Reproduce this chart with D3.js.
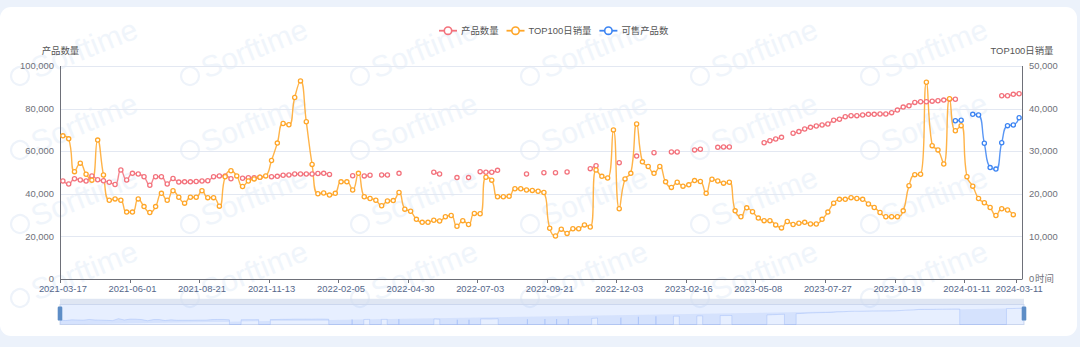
<!DOCTYPE html>
<html><head><meta charset="utf-8">
<script src="https://cdn.jsdelivr.net/npm/d3@7"></script>
<style>
html,body{margin:0;padding:0;background:#fff;overflow:hidden;}
svg{display:block;font-family:"Liberation Sans","Noto Sans CJK SC",Arial,sans-serif;}
</style></head><body>
<svg id="chart" width="1080" height="355"></svg>
<script>
// ---------------- data ----------------
const seriesNames = ["产品数量", "TOP100日销量", "可售产品数"];
const tickIndex = [0, 12, 24, 36, 48, 60, 72, 84, 96, 108, 120, 132, 144, 156, 165];
const tickLabels = ["2021-03-17","2021-06-01","2021-08-21","2021-11-13","2022-02-05","2022-04-30","2022-07-03","2022-09-21","2022-12-03","2023-02-16","2023-05-08","2023-07-27","2023-10-19","2024-01-11","2024-03-11"];
const categories = d3.range(166); // snapshot index order
const leftTicks = [0, 20000, 40000, 60000, 80000, 100000];
const rightTicks = [0, 10000, 20000, 30000, 40000, 50000];

// 产品数量 (left axis)
const productCount = [
46000,44600,47100,46500,46000,48400,46600,46100,45400,44400,
51200,46500,49600,49300,48000,44000,48000,48000,44600,47200,
45500,45600,45600,45800,46000,46100,48000,48400,48400,47100,
null,47300,47500,47500,47800,null,48000,48200,48700,48800,
49300,49300,49300,49300,49500,49600,49100,null,null,null,
48500,null,48400,48700,null,48800,48800,null,49600,null,
null,null,null,null,50100,49300,null,null,47600,null,
47600,null,50400,50100,50100,51000,null,null,null,null,
49300,null,null,49900,null,49900,null,50200,null,null,
null,51800,53200,null,null,null,54600,null,null,57700,
null,null,59300,null,null,59600,59600,null,null,60600,
60900,null,null,61800,62000,62000,null,null,null,null,
null,64000,64900,65700,66500,null,68400,69200,70400,71200,
71800,72300,72800,74500,75000,76200,76700,76700,77000,77300,
77300,77500,77500,78100,79300,80700,81300,82900,83200,83200,
83500,83700,84000,84400,84400,null,null,null,null,null,
null,null,86000,86000,86700,87000];

// TOP100日销量 (right axis)
const top100Sales = [
33600,32900,25200,27200,24600,23200,32600,24400,18500,18800,
18500,15700,15700,18800,17000,15600,17000,20100,18500,20700,
19200,17800,19200,19200,20700,19100,19100,17100,24000,25400,
24200,21700,23000,23500,23900,24200,27800,31900,36500,36200,
42600,46500,36900,26900,20000,20200,19700,20100,22800,22800,
20900,24800,19300,18900,18500,17200,18300,18400,20300,16400,
15900,14000,13300,13300,13800,13600,14600,14900,12400,13700,
12800,15400,15300,23900,23200,19300,19300,19400,21200,21200,
20900,20800,20600,20300,11900,10100,11700,10700,11800,11800,
12700,12200,25600,24100,23700,35000,16500,23500,24800,36400,
27500,26400,24800,26400,22800,21500,22700,21800,22100,23100,
22900,20100,23400,23000,22500,22700,16000,14600,16700,15800,
14300,13700,13700,12700,12000,13500,12800,13100,13300,12900,
12900,14000,15700,17800,18700,18700,19100,18900,18700,17600,
16800,15600,14600,14600,14600,16000,21900,24500,24600,46200,
31300,30300,27000,42300,34800,36000,24000,21800,18900,17900,
16800,14900,16500,16200,15100,null];

// 可售产品数 (left axis)
const sellableCount = new Array(154).fill(null).concat(
[74300,74500,null,77300,77000,63700,52300,51600,64000,72000,72300,75700]);

const colors = ["#f3727c", "#ffa628", "#3c84f2"];

// ---------------- layout ----------------
const W = 1080, H = 355;
const plot = {left: 60, right: 1022, top: 66, bottom: 279};
const svg = d3.select("#chart");

// page background + card
svg.append("rect").attr("x",0).attr("y",0).attr("width",W).attr("height",347).attr("fill","#ecf2fb");
svg.append("rect").attr("x",0).attr("y",347).attr("width",W).attr("height",8).attr("fill","#ffffff");
svg.append("rect").attr("x",0).attr("y",7).attr("width",1077).attr("height",329).attr("rx",11).attr("fill","#ffffff");

// watermark (faint)
const wm = svg.append("g").attr("pointer-events","none");
for (let r = 1; r < 5; r++) {
  for (let c = 0; c < 6; c++) {
    const g = wm.append("g").attr("transform", `translate(${20 + 170*c},${2 + 74*r}) rotate(-22)`);
    g.append("circle").attr("r",9).attr("fill","none").attr("stroke","#eef3fa").attr("stroke-width",2.2);
    g.append("text").attr("x",14).attr("y",9).attr("font-size",30).attr("fill","#f0f5fb").text("Sorftime");
  }
}

// scales
const x = d3.scaleBand().domain(categories).range([plot.left, plot.right]).paddingInner(0).paddingOuter(0);
const yL = d3.scaleLinear().domain([0, 100000]).range([plot.bottom, plot.top]);
const yR = d3.scaleLinear().domain([0, 50000]).range([plot.bottom, plot.top]);
const cx = i => x(i) + x.bandwidth()/2;
const fmt = d3.format(",");

// grid
svg.append("g").selectAll("line").data(leftTicks.filter(d=>d>0)).join("line")
  .attr("x1",plot.left).attr("x2",plot.right)
  .attr("y1",d=>Math.round(yL(d))+0.5).attr("y2",d=>Math.round(yL(d))+0.5)
  .attr("stroke","#e3e8f2").attr("stroke-width",1);

// axes
const axisColor = "#6e7079";
svg.append("line").attr("x1",plot.left+0.5).attr("x2",plot.left+0.5).attr("y1",plot.top).attr("y2",plot.bottom).attr("stroke",axisColor);
svg.append("line").attr("x1",plot.right+0.5).attr("x2",plot.right+0.5).attr("y1",plot.top).attr("y2",plot.bottom).attr("stroke",axisColor);
svg.append("line").attr("x1",plot.left).attr("x2",plot.right+0.5).attr("y1",plot.bottom+0.5).attr("y2",plot.bottom+0.5).attr("stroke",axisColor);

const fs = 9.4;
svg.append("g").selectAll("text").data(leftTicks).join("text")
  .attr("x",54).attr("y",d=>yL(d)).attr("dy","0.35em").attr("text-anchor","end")
  .attr("font-size",fs).attr("fill","#6e7079").text(d=>fmt(d));
svg.append("g").selectAll("text").data(rightTicks).join("text")
  .attr("x",1029).attr("y",d=>yR(d)).attr("dy","0.35em").attr("text-anchor","start")
  .attr("font-size",fs).attr("fill","#6e7079").text(d=>fmt(d));

// x ticks + labels
svg.append("g").selectAll("line").data(tickIndex).join("line")
  .attr("x1",d=>Math.round(x(d))+0.5).attr("x2",d=>Math.round(x(d))+0.5)
  .attr("y1",plot.bottom).attr("y2",plot.bottom+4).attr("stroke",axisColor);
svg.append("g").selectAll("text").data(tickIndex).join("text")
  .attr("x",d=>cx(d)).attr("y",288.5).attr("dy","0.35em").attr("text-anchor","middle")
  .attr("font-size",fs).attr("fill","#55678a").text((d,i)=>tickLabels[i]);

// axis names
svg.append("text").attr("x",60.5).attr("y",51).attr("dy","0.35em").attr("text-anchor","middle")
  .attr("font-size",fs).attr("fill","#555").text("产品数量");
svg.append("text").attr("x",1022).attr("y",51).attr("dy","0.35em").attr("text-anchor","middle")
  .attr("font-size",fs).attr("fill","#555").text("TOP100日销量");
svg.append("text").attr("x",1035).attr("y",278.5).attr("dy","0.35em").attr("text-anchor","start")
  .attr("font-size",fs).attr("fill","#6e7079").text("时间");

// ECharts-like smooth path
function smoothPath(pts, smooth) {
  let d = "", prevX, prevY, cpx0, cpy0, cpx1, cpy1;
  const n = pts.length;
  for (let k = 0; k < n; k++) {
    const px = pts[k][0], py = pts[k][1];
    if (k === 0) { d += `M${px},${py}`; cpx0 = px; cpy0 = py; }
    else {
      let ncx = px, ncy = py;
      if (k + 1 >= n) { cpx1 = px; cpy1 = py; }
      else {
        const nx = pts[k+1][0], ny = pts[k+1][1];
        let vx = nx - prevX, vy = ny - prevY;
        const lp = Math.hypot(px - prevX, py - prevY), ln = Math.hypot(nx - px, ny - py);
        const ratio = ln / (ln + lp);
        ncx = px + vx*smooth*ratio; ncy = py + vy*smooth*ratio;
        ncx = Math.max(Math.min(ncx, Math.max(nx, px)), Math.min(nx, px));
        ncy = Math.max(Math.min(ncy, Math.max(ny, py)), Math.min(ny, py));
        vx = ncx - px; vy = ncy - py;
        cpx1 = px - vx*lp/ln; cpy1 = py - vy*lp/ln;
        cpx1 = Math.max(Math.min(cpx1, Math.max(prevX, px)), Math.min(prevX, px));
        cpy1 = Math.max(Math.min(cpy1, Math.max(prevY, py)), Math.min(prevY, py));
        vx = px - cpx1; vy = py - cpy1;
        ncx = px + vx*ln/lp; ncy = py + vy*ln/lp;
      }
      d += `C${cpx0},${cpy0},${cpx1},${cpy1},${px},${py}`;
      cpx0 = ncx; cpy0 = ncy;
    }
    prevX = px; prevY = py;
  }
  return d;
}
function segments(values, yScale) {
  const segs = []; let cur = [];
  values.forEach((v, i) => {
    if (v == null) { if (cur.length) segs.push(cur); cur = []; }
    else cur.push([cx(i), yScale(v)]);
  });
  if (cur.length) segs.push(cur);
  return segs;
}

const series = [
  {name: seriesNames[0], values: productCount, y: yL, color: colors[0]},
  {name: seriesNames[1], values: top100Sales, y: yR, color: colors[1]},
  {name: seriesNames[2], values: sellableCount, y: yL, color: colors[2]}
];
const gLines = svg.append("g");
series.forEach(s => {
  const segs = segments(s.values, s.y);
  gLines.append("g").selectAll("path").data(segs.filter(p=>p.length>1)).join("path")
    .attr("d", p => smoothPath(p, 0.5)).attr("fill","none")
    .attr("stroke", s.color).attr("stroke-width", 1.4).attr("stroke-opacity", 0.85);
});
series.forEach(s => {
  gLines.append("g").selectAll("circle")
    .data(s.values.map((v,i)=>({v,i})).filter(d=>d.v!=null)).join("circle")
    .attr("cx", d=>cx(d.i)).attr("cy", d=>s.y(d.v)).attr("r", 2.1)
    .attr("fill","#fff").attr("stroke", s.color).attr("stroke-width", 1.3);
});

// legend
const lg = svg.append("g");
let lx = 439;
series.forEach(s => {
  const g = lg.append("g").attr("transform", `translate(${lx},30.7)`);
  g.append("line").attr("x1",0).attr("x2",18).attr("stroke",s.color).attr("stroke-width",1.8);
  g.append("circle").attr("cx",9).attr("r",3.7).attr("fill","#fff").attr("stroke",s.color).attr("stroke-width",1.6);
  const t = g.append("text").attr("x",22).attr("dy","0.35em").attr("font-size",fs).attr("fill","#555").text(s.name);
  lx += 22 + t.node().getComputedTextLength() + 8;
});

// dataZoom slider
const sl = {x0: 60, x1: 1024, top: 304.5, h: 20};
const slW = sl.x1 - sl.x0;
const gs = svg.append("g");
gs.append("rect").attr("x",sl.x0).attr("y",sl.top).attr("width",slW).attr("height",sl.h)
  .attr("fill","none").attr("stroke","#d2dbee").attr("stroke-width",1);
// data shadow from the first series
(function(){
  const vals = productCount;
  const ext = d3.extent(vals.filter(v=>v!=null));
  const off = (ext[1]-ext[0])*0.3;
  const sy = d3.scaleLinear().domain([ext[0]-off, ext[1]+off]).range([0, sl.h]).clamp(true);
  const step = slW / (vals.length - 1);
  const area = [[0,0]], line = [];
  let last = false, tc = 0;
  vals.forEach((v, i) => {
    const empty = v == null;
    const oc = empty ? 0 : sy(v);
    if (empty && !last && i) { area.push([area[area.length-1][0],0]); line.push([line[line.length-1][0],0]); }
    else if (!empty && last) { area.push([tc,0]); line.push([tc,0]); }
    area.push([tc,oc]); line.push([tc,oc]);
    tc += step; last = empty;
  });
  const toPt = p => [sl.x0 + p[0], sl.top + sl.h - p[1]];
  gs.append("path").attr("d", d3.line()(area.map(toPt)) + "Z").attr("fill","#8fb0f7").attr("fill-opacity",0.2);
  gs.append("path").attr("d", d3.line()(line.map(toPt))).attr("fill","none").attr("stroke","#8fb0f7").attr("stroke-width",0.5).attr("stroke-opacity",0.7);
})();
gs.append("rect").attr("x",sl.x0).attr("y",sl.top).attr("width",slW).attr("height",sl.h).attr("fill","rgba(135,175,255,0.2)");
gs.append("rect").attr("x",sl.x0).attr("y",298.8).attr("width",slW).attr("height",sl.top-298.8).attr("fill","#d2dbee").attr("fill-opacity",0.7);
[sl.x0, sl.x1].forEach(hx => {
  gs.append("rect").attr("x",hx-2.3).attr("y",306.6).attr("width",4.6).attr("height",14).attr("rx",1.2)
    .attr("fill","#5d8dc6");
});
</script>
</body></html>
